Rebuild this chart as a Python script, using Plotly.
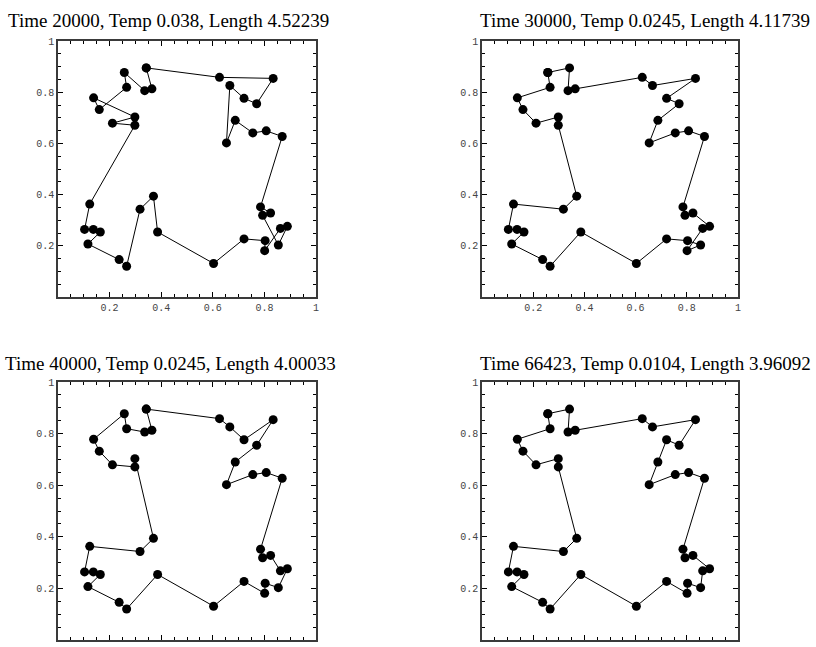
import plotly.graph_objects as go

# City coordinates
city_x = [0.257, 0.342, 0.364, 0.336, 0.266, 0.138, 0.160, 0.211, 0.298, 0.298,
          0.370, 0.318, 0.123, 0.103, 0.137, 0.164, 0.116, 0.237, 0.266, 0.386,
          0.603, 0.721, 0.803, 0.801, 0.854, 0.862, 0.889, 0.824, 0.793, 0.785,
          0.869, 0.807, 0.755, 0.653, 0.687, 0.770, 0.721, 0.834, 0.666, 0.626]
city_y = [0.877, 0.895, 0.813, 0.806, 0.819, 0.778, 0.732, 0.679, 0.703, 0.671,
          0.394, 0.343, 0.363, 0.264, 0.264, 0.254, 0.207, 0.146, 0.120, 0.254,
          0.131, 0.227, 0.220, 0.181, 0.203, 0.268, 0.276, 0.328, 0.319, 0.352,
          0.627, 0.649, 0.641, 0.602, 0.690, 0.755, 0.776, 0.854, 0.826, 0.858]

# Tours (1-based city numbers)
tour_20000 = [2, 40, 38, 36, 37, 39, 34, 35, 33, 32, 31, 30, 28, 29, 25, 27, 26, 24, 23, 22,
              21, 20, 11, 12, 19, 18, 17, 16, 15, 14, 13, 10, 8, 9, 6, 7, 5, 1, 4, 3]
tour_30000 = [1, 2, 4, 3, 40, 39, 38, 37, 36, 35, 34, 33, 32, 31, 30, 29, 28, 27, 26, 24,
              25, 23, 22, 21, 20, 19, 18, 17, 16, 15, 14, 13, 12, 11, 10, 9, 8, 7, 6, 5]
tour_40000 = [2, 40, 39, 37, 38, 36, 35, 34, 33, 32, 31, 30, 29, 28, 26, 27, 25, 23, 24, 22,
              21, 20, 19, 18, 17, 16, 15, 14, 13, 12, 11, 9, 10, 8, 7, 6, 1, 5, 4, 3]
tour_66423 = [1, 2, 4, 3, 40, 39, 38, 36, 37, 35, 34, 33, 32, 31, 30, 29, 28, 27, 26, 25,
              23, 24, 22, 21, 20, 19, 18, 17, 16, 15, 14, 13, 12, 11, 10, 9, 8, 7, 6, 5]

titles = ["Time 20000, Temp 0.038, Length 4.52239",
          "Time 30000, Temp 0.0245, Length 4.11739",
          "Time 40000, Temp 0.0245, Length 4.00033",
          "Time 66423, Temp 0.0104, Length 3.96092"]
tours = [tour_20000, tour_30000, tour_40000, tour_66423]

tick_vals = [0, 0.2, 0.4, 0.6, 0.8, 1]
tick_text = ["", "0.2", "0.4", "0.6", "0.8", "1"]

W, H = 816, 647
# panel frames in screen pixels: (left, right, top, bottom)
frames = [(58, 316, 41, 297), (482, 738, 41, 297),
          (58, 316, 382, 640), (482, 738, 382, 640)]
title_pos = [(168, 20), (645, 20), (170, 364), (645, 364)]

fig = go.Figure()
annotations = []
for i, (tour, title) in enumerate(zip(tours, titles)):
    idx = [c - 1 for c in tour] + [tour[0] - 1]
    xs = [city_x[k] for k in idx]
    ys = [city_y[k] for k in idx]
    n = i + 1
    xa = "x" if n == 1 else f"x{n}"
    ya = "y" if n == 1 else f"y{n}"
    fig.add_trace(go.Scatter(x=xs, y=ys, mode="lines+markers", xaxis=xa, yaxis=ya,
                             line=dict(color="black", width=1),
                             marker=dict(color="black", size=9),
                             showlegend=False, hoverinfo="skip"))
    l, r, t, b = frames[i]
    axis_common = dict(range=[0, 1], showgrid=False, zeroline=False, automargin=False,
                       showline=True, linecolor="#3a3a3a", linewidth=1.5, mirror="allticks",
                       ticks="inside", ticklen=5, tickcolor="black", tickwidth=1,
                       tickmode="array", tickvals=tick_vals, ticktext=tick_text,
                       tickfont=dict(family="Liberation Mono, DejaVu Sans Mono, monospace",
                                     size=10, color="#444"),
                       minor=dict(tickmode="linear", tick0=0, dtick=0.05, ticks="inside",
                                  ticklen=3, tickcolor="black", tickwidth=1),
                       fixedrange=True)
    fig.layout[f"xaxis{'' if n == 1 else n}"] = dict(
        domain=[l / W, r / W], anchor=ya, **axis_common)
    fig.layout[f"yaxis{'' if n == 1 else n}"] = dict(
        domain=[1 - b / H, 1 - t / H], anchor=xa, **axis_common)
    tx, ty = title_pos[i]
    annotations.append(dict(text=title, x=tx / W, y=1 - ty / H,
                            xref="paper", yref="paper",
                            xanchor="center", yanchor="middle", showarrow=False,
                            font=dict(family="Liberation Serif, Times New Roman, serif",
                                      size=19, color="black")))

fig.update_layout(width=W, height=H, margin=dict(l=0, r=0, t=0, b=0, autoexpand=False),
                  paper_bgcolor="white", plot_bgcolor="white",
                  annotations=annotations)
# pin the figure to the window's top-left corner so it fills the window exactly
post = ("var g=document.getElementById('{plot_id}');"
        "g.style.position='fixed';g.style.left='0px';g.style.top='0px';"
        "document.body.style.margin='0';"
        "document.documentElement.style.overflow='hidden';"
        "document.body.style.overflow='hidden';")
fig.write_html("out.html", post_script=post, config={"displayModeBar": False})
